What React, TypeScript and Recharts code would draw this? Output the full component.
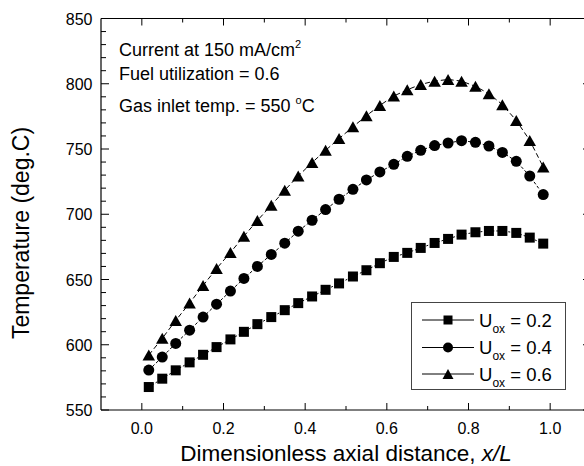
import React from 'react';
import { LineChart, Line, XAxis, YAxis, Legend } from 'recharts';

const FONT = '"Liberation Sans", Arial, Helvetica, sans-serif';

// Dimensionless axial distance x/L (cell centres)
const xValues = [0.017, 0.05, 0.083, 0.117, 0.15, 0.183, 0.217, 0.25, 0.283, 0.317, 0.35, 0.383, 0.417, 0.45, 0.483, 0.517, 0.55, 0.583, 0.617, 0.65, 0.683, 0.717, 0.75, 0.783, 0.817, 0.85, 0.883, 0.917, 0.95, 0.983];
// Temperature (deg.C) for each oxidant utilization
const uox02 = [567.6, 574.0, 580.4, 586.5, 592.3, 598.2, 604.1, 609.9, 615.8, 621.2, 626.5, 631.9, 637.0, 642.1, 647.0, 652.3, 657.1, 662.5, 667.3, 670.4, 674.2, 678.0, 681.1, 684.4, 686.2, 687.2, 687.2, 685.7, 682.1, 677.5];
const uox04 = [580.6, 590.6, 601.0, 611.2, 621.2, 631.1, 641.1, 650.8, 660.0, 669.2, 677.8, 687.0, 695.4, 703.6, 711.5, 719.1, 726.3, 732.4, 738.3, 744.4, 749.0, 752.6, 754.6, 756.4, 755.1, 752.3, 747.4, 740.6, 729.3, 715.1];
const uox06 = [592.1, 604.9, 618.6, 631.9, 645.4, 658.4, 670.7, 683.2, 695.2, 706.9, 718.4, 729.3, 739.6, 749.0, 758.0, 767.0, 775.5, 783.4, 790.6, 795.4, 799.5, 802.0, 803.3, 802.0, 798.0, 792.4, 784.0, 771.9, 756.6, 736.2];

const seriesLabels = ['0.2', '0.4', '0.6'];

const xTicks = [0, 0.1, 0.2, 0.3, 0.4, 0.5, 0.6, 0.7, 0.8, 0.9, 1.0];
const xMajorTicks = [0, 0.2, 0.4, 0.6, 0.8, 1.0];
const xTickLabels = ['0.0', '0.2', '0.4', '0.6', '0.8', '1.0'];
const yTicks = [550, 560, 570, 580, 590, 600, 610, 620, 630, 640, 650, 660, 670, 680, 690, 700, 710, 720, 730, 740, 750, 760, 770, 780, 790, 800, 810, 820, 830, 840, 850];
const yMajorTicks = [550, 600, 650, 700, 750, 800, 850];

const data = xValues.map((x, i) => ({ x, a: uox02[i], b: uox04[i], c: uox06[i] }));

const XTickBottom = (props: any) => {
  const { x, y, payload } = props;
  const idx = xMajorTicks.findIndex((m) => Math.abs(m - payload.value) < 1e-6);
  const major = idx >= 0;
  return (
    <g>
      <line x1={x} x2={x} y1={y} y2={y - (major ? 7 : 4)} stroke="#000" strokeWidth={1} />
      {major && (
        <text x={x} y={y + 24} textAnchor="middle" fontSize={16} fontFamily={FONT} fill="#000">
          {xTickLabels[idx]}
        </text>
      )}
    </g>
  );
};

const XTickTop = (props: any) => {
  const { x, y, payload } = props;
  const major = xMajorTicks.some((m) => Math.abs(m - payload.value) < 1e-6);
  return <line x1={x} x2={x} y1={y} y2={y + (major ? 7 : 4)} stroke="#000" strokeWidth={1} />;
};

const YTickLeft = (props: any) => {
  const { x, y, payload } = props;
  const major = yMajorTicks.includes(payload.value);
  return (
    <g>
      <line x1={x} x2={x + (major ? 8 : 5)} y1={y} y2={y} stroke="#000" strokeWidth={1} />
      {major && (
        <text x={x - 8.5} y={y + 6} textAnchor="end" fontSize={16} fontFamily={FONT} fill="#000">
          {payload.value}
        </text>
      )}
    </g>
  );
};

const YTickRight = (props: any) => {
  const { x, y, payload } = props;
  const major = yMajorTicks.includes(payload.value);
  return <line x1={x} x2={x - (major ? 8 : 5)} y1={y} y2={y} stroke="#000" strokeWidth={1} />;
};

const Square = ({ cx, cy, s = 10 }: any) => <rect x={cx - s / 2} y={cy - s / 2} width={s} height={s} fill="#000" />;
const Dot = ({ cx, cy, r = 5.5 }: any) => <circle cx={cx} cy={cy} r={r} fill="#000" />;
const Tri = ({ cx, cy, w = 12.5, h = 11 }: any) => (
  <polygon points={`${cx},${cy - h / 2} ${cx + w / 2},${cy + h / 2} ${cx - w / 2},${cy + h / 2}`} fill="#000" />
);

const renderLegend = () => {
  const rowsY = [18, 45.5, 72];
  return (
    <div style={{ width: 155, height: 88, border: '1px solid #444', boxSizing: 'border-box', background: '#fff' }}>
      <svg width={153} height={86} style={{ display: 'block' }}>
        {seriesLabels.map((lab, i) => {
          const cy = rowsY[i] - 1;
          return (
            <g key={lab}>
              <line x1={10} x2={62} y1={cy} y2={cy} stroke="#000" strokeWidth={1} />
              {i === 0 && <Square cx={36} cy={cy} s={9} />}
              {i === 1 && <Dot cx={36} cy={cy} r={5} />}
              {i === 2 && <Tri cx={36} cy={cy} w={11} h={10} />}
              <text x={67} y={cy + 6.5} fontSize={18.5} fontFamily={FONT} fill="#000">
                U
                <tspan fontSize={12} dy={6}>ox</tspan>
                <tspan dy={-6}>{' = ' + lab}</tspan>
              </text>
            </g>
          );
        })}
      </svg>
    </div>
  );
};

export default function App() {
  return (
    <div style={{ position: 'absolute', left: 0, top: 0, width: 584, height: 466, overflow: 'hidden', background: '#fff' }}>
      <LineChart width={600} height={466} data={data} margin={{ top: 0, right: 0, bottom: 0, left: 0 }}>
        <XAxis
          xAxisId="b"
          dataKey="x"
          type="number"
          domain={[-0.1, 1.1]}
          ticks={xTicks}
          interval={0}
          height={56}
          tickSize={0}
          tickMargin={0}
          tickLine={false}
          axisLine={{ stroke: '#000', strokeWidth: 1.2 }}
          tick={<XTickBottom />}
          allowDataOverflow
        />
        <XAxis
          xAxisId="t"
          orientation="top"
          dataKey="x"
          type="number"
          domain={[-0.1, 1.1]}
          ticks={xTicks}
          interval={0}
          height={18.5}
          tickSize={0}
          tickMargin={0}
          tickLine={false}
          axisLine={{ stroke: '#000', strokeWidth: 1.2 }}
          tick={<XTickTop />}
          allowDataOverflow
        />
        <YAxis
          yAxisId="l"
          type="number"
          domain={[550, 850]}
          ticks={yTicks}
          interval={0}
          width={101}
          tickSize={0}
          tickMargin={0}
          tickLine={false}
          axisLine={{ stroke: '#000', strokeWidth: 1.2 }}
          tick={<YTickLeft />}
          allowDataOverflow
        />
        <YAxis
          yAxisId="r"
          orientation="right"
          type="number"
          domain={[550, 850]}
          ticks={yTicks}
          interval={0}
          width={9}
          tickSize={0}
          tickMargin={0}
          tickLine={false}
          axisLine={{ stroke: '#000', strokeWidth: 1.2 }}
          tick={<YTickRight />}
          allowDataOverflow
        />
        <Line
          xAxisId="b"
          yAxisId="l"
          dataKey="a"
          stroke="#000"
          strokeWidth={1}
          strokeDasharray="2 2"
          isAnimationActive={false}
          dot={(p: any) => <Square key={`s${p.index}`} cx={p.cx} cy={p.cy} />}
          activeDot={false}
        />
        <Line
          xAxisId="b"
          yAxisId="l"
          dataKey="b"
          stroke="#000"
          strokeWidth={1}
          strokeDasharray="3 2"
          isAnimationActive={false}
          dot={(p: any) => <Dot key={`c${p.index}`} cx={p.cx} cy={p.cy} />}
          activeDot={false}
        />
        <Line
          xAxisId="b"
          yAxisId="l"
          dataKey="c"
          stroke="#000"
          strokeWidth={1}
          strokeDasharray="5 3"
          isAnimationActive={false}
          dot={(p: any) => <Tri key={`t${p.index}`} cx={p.cx} cy={p.cy} />}
          activeDot={false}
        />
        <Legend
          layout="vertical"
          align="center"
          verticalAlign="middle"
          content={renderLegend}
          wrapperStyle={{ position: 'absolute', left: 411, top: 302, width: 155, height: 88 }}
        />
        <text x={119} y={56} fontSize={18} fontFamily={FONT} fill="#000">
          Current at 150 mA/cm<tspan fontSize={11} dy={-8}>2</tspan>
        </text>
        <text x={119} y={80} fontSize={18} fontFamily={FONT} fill="#000">
          Fuel utilization = 0.6
        </text>
        <text x={119} y={111.5} fontSize={18} fontFamily={FONT} fill="#000">
          Gas inlet temp. = 550 <tspan fontSize={11} dy={-8}>o</tspan>
          <tspan dy={8}>C</tspan>
        </text>
        <text x={346} y={461} textAnchor="middle" fontSize={22.5} fontFamily={FONT} fill="#000">
          Dimensionless axial distance, <tspan fontStyle="italic">x/L</tspan>
        </text>
        <text
          x={29}
          y={233}
          textAnchor="middle"
          fontSize={23}
          fontFamily={FONT}
          fill="#000"
          transform="rotate(-90, 29, 233)"
        >
          Temperature (deg.C)
        </text>
      </LineChart>
    </div>
  );
}
